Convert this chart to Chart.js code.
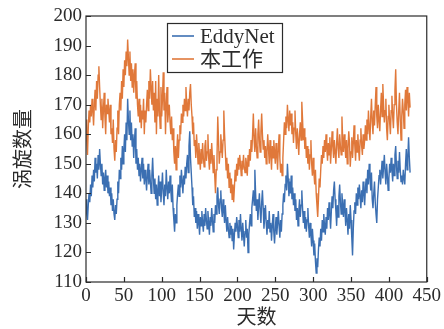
<!DOCTYPE html>
<html>
<head>
<meta charset="utf-8">
<script src="https://cdn.jsdelivr.net/npm/chart.js@4.4.1/dist/chart.umd.min.js"></script>
<style>
  html, body { margin: 0; padding: 0; background: #fff; }
  #wrap { width: 444px; height: 329px; }
</style>
</head>
<body>
<div id="wrap"><canvas id="grafico_vortices" width="444" height="329"></canvas></div>
<script>
/* valores: número de vórtices por dia */
const nomes_series = ['EddyNet', '本工作'];

const valores_eddynet = [
    138, 133, 131, 136, 140, 137, 143, 139, 146, 142,
    148, 144, 152, 147, 150, 145, 153, 148, 155, 150,
    146, 150, 143, 147, 141, 145, 148, 142, 146, 140,
    144, 139, 142, 136, 140, 134, 138, 133, 131, 136,
    133, 138, 144, 140, 148, 145, 152, 148, 156, 150,
    155, 160, 154, 164, 158, 172, 165, 160, 168, 158,
    164, 156, 160, 152, 158, 162, 150, 155, 148, 152,
    146, 150, 144, 148, 152, 145, 150, 143, 148, 145,
    141, 146, 150, 143, 148, 144, 140, 146, 152, 145,
    140, 145, 138, 143, 136, 141, 146, 139, 144, 137,
    142, 147, 140, 136, 143, 139, 148, 142, 138, 144,
    140, 146, 141, 137, 143, 135, 131, 127, 133, 130,
    136, 140, 143, 139, 146, 142, 148, 144, 140, 146,
    143, 149, 145, 150, 153, 147, 156, 161, 152, 147,
    142, 136, 139, 132, 135, 130, 134, 128, 133, 130,
    126, 132, 129, 134, 130, 127, 133, 129, 135, 131,
    128, 134, 130, 126, 132, 129, 135, 131, 127, 133,
    130, 136, 133, 139, 142, 136, 133, 138, 141, 135,
    132, 138, 134, 130, 136, 131, 127, 132, 128, 125,
    130, 126, 129, 124, 128, 121, 126, 130, 127, 132,
    129, 125, 131, 127, 133, 128, 124, 130, 126, 122,
    127, 131, 125, 128, 120, 126, 130, 133, 129, 135,
    138, 141, 136, 148, 140, 134, 138, 131, 136, 140,
    134, 130, 137, 141, 135, 128, 132, 136, 130, 126,
    131, 128, 134, 127, 130, 124, 129, 133, 127, 123,
    128, 132, 126, 130, 134, 129, 125, 131, 127, 133,
    136, 140, 137, 143, 146, 141, 150, 145, 139, 144,
    140, 146, 138, 142, 136, 140, 134, 138, 131, 135,
    129, 134, 138, 132, 136, 141, 135, 130, 134, 128,
    132, 127, 131, 135, 129, 125, 130, 126, 122, 128,
    124, 119, 123, 117, 113, 118, 115, 121, 125, 122,
    128, 124, 131, 127, 133, 129, 126, 132, 128, 135,
    131, 137, 133, 128, 134, 139, 135, 141, 144, 138,
    134, 129, 136, 132, 139, 143, 137, 133, 140, 136,
    132, 138, 134, 129, 135, 131, 126, 133, 128, 136,
    131, 125, 119, 128, 134, 137, 133, 140, 136, 142,
    138, 143, 139, 135, 141, 137, 144, 140, 136, 142,
    145, 140, 148, 143, 150, 146, 141, 147, 138, 135,
    140, 144, 137, 133, 130, 138, 142, 146, 148, 143,
    147, 151, 145, 149, 153, 147, 143, 150, 146, 141,
    145, 150, 147, 152, 148, 144, 150, 146, 153, 156,
    149, 145, 151, 147, 154, 148, 144, 146, 143, 148,
    145, 143, 150, 155, 148, 152, 159, 152, 147
];

const valores_trabalho = [
    165, 158, 153, 162, 168, 164, 170, 166, 172, 168,
    163, 170, 175, 168, 178, 172, 180, 183, 176, 170,
    165, 172, 162, 168, 174, 166, 160, 170, 167, 172,
    168, 164, 170, 160, 162, 157, 165, 155, 151, 158,
    154, 162, 168, 160, 170, 174, 168, 178, 172, 182,
    176, 185, 180, 188, 183, 192, 186, 180, 188, 178,
    184, 176, 182, 174, 180, 184, 172, 178, 170, 166,
    172, 164, 170, 162, 168, 165, 172, 160, 168, 164,
    170, 175, 168, 178, 172, 182, 176, 170, 178, 168,
    174, 164, 178, 160, 172, 166, 180, 168, 162, 176,
    166, 172, 181, 168, 174, 160, 170, 176, 164, 168,
    170, 164, 160, 166, 158, 162, 154, 150, 156, 148,
    155, 160, 152, 158, 163, 160, 167, 164, 170, 166,
    172, 168, 176, 170, 166, 172, 168, 174, 177, 170,
    166, 160, 164, 156, 158, 152, 160, 155, 150, 157,
    153, 148, 155, 150, 157, 152, 149, 156, 158, 151,
    154, 160, 152, 148, 155, 150, 157, 152, 147, 153,
    146, 140, 148, 152, 166, 158, 150, 154, 160, 156,
    152, 158, 168, 160, 154, 148, 152, 145, 150, 142,
    147, 140, 145, 138, 143, 137, 142, 148, 144, 150,
    146, 152, 148, 153, 150, 146, 151, 148, 153, 149,
    147, 152, 150, 146, 153, 149, 155, 151, 158, 154,
    160, 167, 158, 154, 162, 156, 152, 160, 165, 158,
    154, 161, 167, 160, 155, 158, 152, 156, 150, 154,
    160, 155, 150, 158, 153, 148, 156, 152, 158, 154,
    150, 157, 153, 148, 155, 160, 152, 147, 150, 146,
    152, 158, 164, 160, 166, 162, 170, 165, 161, 168,
    163, 167, 160, 164, 157, 162, 168, 160, 155, 162,
    158, 153, 160, 164, 158, 171, 165, 158, 162, 155,
    159, 152, 156, 150, 155, 148, 153, 158, 150, 146,
    152, 147, 143, 148, 140, 136, 132, 138, 145, 142,
    148, 153, 150, 156, 152, 158, 154, 160, 155, 151,
    157, 153, 159, 150, 155, 161, 156, 152, 158, 154,
    150, 157, 162, 155, 152, 160, 156, 153, 166, 158,
    154, 160, 156, 152, 158, 150, 155, 161, 157, 149,
    154, 159, 152, 157, 163, 156, 151, 158, 154, 160,
    155, 151, 158, 162, 156, 153, 160, 155, 158, 163,
    158, 165, 160, 168, 162, 158, 166, 172, 164, 160,
    168, 163, 170, 176, 166, 162, 170, 165, 161, 168,
    174, 166, 177, 170, 164, 168, 172, 162, 158, 166,
    170, 164, 160, 168, 173, 166, 162, 170, 175, 182,
    170, 164, 160, 168, 174, 165, 158, 166, 172, 168,
    162, 170, 175, 168, 176, 172, 166, 174, 169
];

const limites_x = [0, 450];
const limites_y = [110, 200];

var fonte_serif = "'Liberation Serif', 'Times New Roman', 'Noto Sans CJK SC', serif";
var cor_azul = '#3b6fb2';
var cor_laranja = '#e0783a';
var cor_eixo = '#2b2b2b';

function montarPontos(valores) {
    return valores.map(function (v, dia) { return { x: dia, y: v }; });
}

/* moldura, marcas internas dos eixos e legenda com caixa */
const plugin_moldura = {
    id: 'moldura',
    afterDraw: function (chart) {
        var ctx = chart.ctx;
        var area = chart.chartArea;
        var sx = chart.scales.x;
        var sy = chart.scales.y;
        ctx.save();
        ctx.strokeStyle = cor_eixo;
        ctx.lineWidth = 1.2;
        ctx.strokeRect(area.left, area.top, area.right - area.left, area.bottom - area.top);

        ctx.beginPath();
        sx.ticks.forEach(function (t) {
            var px = Math.round(sx.getPixelForValue(t.value)) + 0.5;
            ctx.moveTo(px, area.bottom);
            ctx.lineTo(px, area.bottom - 5);
        });
        sy.ticks.forEach(function (t) {
            var py = Math.round(sy.getPixelForValue(t.value)) + 0.5;
            ctx.moveTo(area.left, py);
            ctx.lineTo(area.left + 5, py);
        });
        ctx.stroke();

        // legenda
        var lx = 167, ly = 23, lw = 115, lh = 49;
        ctx.fillStyle = '#fff';
        ctx.fillRect(lx, ly, lw, lh);
        ctx.lineWidth = 1.2;
        ctx.strokeRect(lx + 0.5, ly + 0.5, lw, lh);
        var linhas = [ly + 13, ly + 36];
        chart.data.datasets.forEach(function (ds, i) {
            ctx.strokeStyle = ds.borderColor;
            ctx.lineWidth = 1.6;
            ctx.beginPath();
            ctx.moveTo(lx + 5, linhas[i]);
            ctx.lineTo(lx + 27, linhas[i]);
            ctx.stroke();
            ctx.fillStyle = cor_eixo;
            ctx.font = "21px " + fonte_serif;
            ctx.textBaseline = 'middle';
            ctx.textAlign = 'left';
            ctx.fillText(ds.label, lx + 33, linhas[i] + 1);
        });
        ctx.restore();
    }
};

const config_vortices = {
    type: 'line',
    data: {
        datasets: [
            {
                label: nomes_series[0],
                data: montarPontos(valores_eddynet),
                borderColor: cor_azul,
                backgroundColor: cor_azul,
                borderWidth: 1.4,
                pointRadius: 0,
                tension: 0
            },
            {
                label: nomes_series[1],
                data: montarPontos(valores_trabalho),
                borderColor: cor_laranja,
                backgroundColor: cor_laranja,
                borderWidth: 1.4,
                pointRadius: 0,
                tension: 0
            }
        ]
    },
    options: {
        responsive: false,
        animation: false,
        layout: { padding: { left: 0, right: 17, top: 16, bottom: 0 } },
        plugins: {
            legend: { display: false },
            tooltip: { enabled: false }
        },
        scales: {
            x: {
                type: 'linear',
                min: limites_x[0],
                max: limites_x[1],
                grid: { display: false, drawTicks: false },
                border: { display: false },
                ticks: {
                    stepSize: 50,
                    autoSkip: false,
                    maxRotation: 0,
                    padding: 3,
                    color: cor_eixo,
                    font: { family: fonte_serif, size: 19 }
                },
                title: {
                    display: true,
                    text: '天数',
                    color: cor_eixo,
                    font: { family: fonte_serif, size: 20 },
                    padding: { top: 0, bottom: -2 }
                },
                afterFit: function (scale) { scale.height = 47; }
            },
            y: {
                min: limites_y[0],
                max: limites_y[1],
                grid: { display: false, drawTicks: false },
                border: { display: false },
                ticks: {
                    stepSize: 10,
                    autoSkip: false,
                    padding: 4,
                    color: cor_eixo,
                    font: { family: fonte_serif, size: 19 }
                },
                title: {
                    display: true,
                    text: '涡旋数量',
                    color: cor_eixo,
                    font: { family: fonte_serif, size: 20 },
                    padding: { top: 13, bottom: 0 }
                },
                afterFit: function (scale) { scale.width = 86; }
            }
        }
    },
    plugins: [plugin_moldura]
};

const grafico_vortices = new Chart(
    document.getElementById('grafico_vortices'),
    config_vortices
);
</script>
</body>
</html>
